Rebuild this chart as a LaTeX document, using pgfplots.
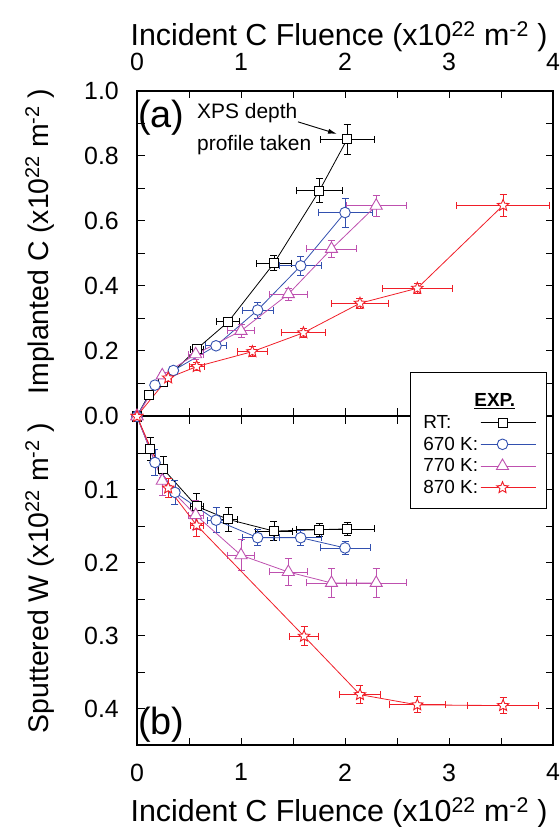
\documentclass[border=0pt]{standalone}
\usepackage{fontspec}
\setmainfont{Liberation Sans}
\usepackage{pgfplots}
\pgfplotsset{compat=1.18}
\usetikzlibrary{arrows.meta}

\definecolor{cB}{RGB}{50,80,175}
\definecolor{cM}{RGB}{190,80,175}
\definecolor{cR}{RGB}{240,30,40}

\pgfdeclareplotmark{ostar}{%
  \pgfpathmoveto{\pgfpointpolar{90}{\pgfplotmarksize}}%
  \pgfpathlineto{\pgfpointpolar{126}{0.45\pgfplotmarksize}}%
  \pgfpathlineto{\pgfpointpolar{162}{\pgfplotmarksize}}%
  \pgfpathlineto{\pgfpointpolar{198}{0.45\pgfplotmarksize}}%
  \pgfpathlineto{\pgfpointpolar{234}{\pgfplotmarksize}}%
  \pgfpathlineto{\pgfpointpolar{270}{0.45\pgfplotmarksize}}%
  \pgfpathlineto{\pgfpointpolar{306}{\pgfplotmarksize}}%
  \pgfpathlineto{\pgfpointpolar{342}{0.45\pgfplotmarksize}}%
  \pgfpathlineto{\pgfpointpolar{18}{\pgfplotmarksize}}%
  \pgfpathlineto{\pgfpointpolar{54}{0.45\pgfplotmarksize}}%
  \pgfpathclose
  \pgfusepathqfillstroke}

\pgfplotsset{
  panel/.style={
    scale only axis, width=416bp,
    xmin=0, xmax=4,
    xtick={0,1,2,3,4}, minor xtick={0.5,1.5,2.5,3.5},
    tick align=inside,
    major tick length=7.5bp, minor tick length=7.5bp,
    axis line style={line width=1.3bp},
    tick style={line width=1bp, black},
    tick label style={font=\fontsize{25}{28}\selectfont},
    /pgf/number format/assume math mode=true,
    yticklabel style={inner sep=0pt, anchor=east, xshift=-18bp,
      /pgf/number format/.cd, fixed, fixed zerofill, precision=1},
    legend image code/.code={\path (0bp,0bp) -- (55bp,0bp);
      \draw[mark repeat=2, mark phase=2, #1]
      plot coordinates {(0bp,0bp) (22bp,0bp) (44bp,0bp)};},
  },
  errs/.style={line width=0.8bp,
    error bars/.cd, x dir=both, x explicit, y dir=both, y explicit,
    error bar style={line width=0.8bp},
    error mark options={rotate=90, mark size=3.5bp, line width=0.8bp}},
  sRT/.style={black, mark=square*, mark size=4.5bp, mark options={fill=white, line width=0.9bp}, errs},
  sB/.style={cB, mark=*, mark size=5.3bp, mark options={fill=white, line width=0.9bp}, errs},
  sM/.style={cM, mark=triangle*, mark size=7bp, mark options={fill=white, line width=0.9bp}, errs},
  sR/.style={cR, mark=ostar, mark size=6bp, mark options={fill=white, line width=0.9bp}, errs},
}

\begin{document}
\begin{tikzpicture}
\useasboundingbox (0bp,0bp) rectangle (560bp,827bp);

% ---------- top panel ----------
\begin{axis}[panel, at={(137bp,411bp)}, anchor=south west, height=325bp,
  ymin=0, ymax=1,
  ytick={0,0.2,0.4,0.6,0.8,1.0}, minor ytick={0.1,0.3,0.5,0.7,0.9},
  xticklabel pos=upper,
  xticklabel style={anchor=south, inner sep=0pt, yshift=20bp},
]
\addplot[sRT] table[x index=0, y index=1, x error index=2, y error index=3] {
0     0     0     0
0.115 0.066 0.02  0.008
0.25  0.105 0.03  0.01
0.574 0.206 0.065 0.012
0.878 0.290 0.11  0.012
1.317 0.470 0.165 0.023
1.753 0.693 0.22  0.037
2.02  0.851 0.26  0.047
};
\addplot[sB] table[x index=0, y index=1, x error index=2, y error index=3] {
0     0     0     0
0.173 0.095 0.025 0.01
0.35  0.14  0.04  0.01
0.76  0.216 0.10  0.012
1.16  0.326 0.15  0.025
1.574 0.462 0.20  0.03
2.0   0.626 0.26  0.045
};
\addplot[sM] table[x index=0, y index=1, x error index=2, y error index=3] {
0     0     0     0
0.243 0.125 0.03  0.01
0.564 0.19  0.07  0.015
1.0   0.262 0.13  0.02
1.455 0.375 0.18  0.018
1.87  0.514 0.24  0.025
2.30  0.647 0.29  0.033
};
\addplot[sR] table[x index=0, y index=1, x error index=2, y error index=3] {
0     0     0     0
0.30  0.117 0.035 0.01
0.574 0.152 0.07  0.012
1.109 0.198 0.145 0.015
1.60  0.256 0.21  0.015
2.144 0.347 0.27  0.015
2.695 0.393 0.34  0.015
3.52  0.648 0.45  0.034
};
\node[anchor=west, inner sep=0pt, font=\fontsize{38}{40}\selectfont] at (axis cs:0.01,0.917) {(a)};
\node[anchor=west, align=left, inner sep=0pt, font=\fontsize{21}{32}\selectfont] at (axis cs:0.577,0.883) {XPS depth\\profile taken};
\draw[line width=0.9bp, -{Latex[length=9bp,width=5bp]}] (axis cs:1.548,0.905) -- (axis cs:1.923,0.868);
\end{axis}

% ---------- bottom panel ----------
\begin{axis}[panel, at={(137bp,82bp)}, anchor=south west, height=328.5bp,
  ymin=0, ymax=0.45, y dir=reverse,
  ytick={0.1,0.2,0.3,0.4}, minor ytick={0.05,0.15,0.25,0.35},
  xticklabel style={anchor=north, inner sep=0pt, yshift=-18.5bp},
  legend plot pos=right,
  legend style={at={(0.656,1.134)}, anchor=north west, draw=black, line width=1bp, fill=white,
    font=\fontsize{19}{21}\selectfont, cells={anchor=west}, row sep=3bp,
    inner xsep=11bp, inner ysep=11bp},
]
\addlegendimage{empty legend}
\addlegendentry{\rule{0pt}{21bp}\makebox[0pt][l]{\hspace{51bp}\underline{\textbf{EXP.}}}}
\addplot[sRT] table[x index=0, y index=1, x error index=2, y error index=3] {
0     0     0     0
0.125 0.044 0.02  0.016
0.253 0.072 0.03  0.018
0.574 0.123 0.06  0.017
0.878 0.141 0.09  0.016
1.317 0.157 0.18  0.013
1.753 0.155 0.22  0.009
2.02  0.154 0.26  0.009
};
\addlegendentry{RT:}
\addplot[sB] table[x index=0, y index=1, x error index=2, y error index=3] {
0     0     0     0
0.173 0.063 0.02  0.018
0.365 0.104 0.04  0.017
0.76  0.142 0.08  0.017
1.16  0.166 0.15  0.011
1.574 0.166 0.20  0.01
2.0   0.180 0.24  0.009
};
\addlegendentry{670 K:}
\addplot[sM] table[x index=0, y index=1, x error index=2, y error index=3] {
0     0     0     0
0.243 0.088 0.03  0.02
0.564 0.135 0.07  0.02
1.0   0.190 0.13  0.021
1.455 0.213 0.18  0.019
1.87  0.228 0.24  0.02
2.30  0.228 0.29  0.02
};
\addlegendentry{770 K:}
\addplot[sR] table[x index=0, y index=1, x error index=2, y error index=3] {
0     0     0     0
0.30  0.098 0.03  0.013
0.574 0.149 0.06  0.015
1.606 0.301 0.14  0.013
2.144 0.381 0.20  0.012
2.695 0.395 0.27  0.011
3.52  0.396 0.34  0.011
};
\addlegendentry{870 K:}
\node[anchor=west, inner sep=0pt, font=\fontsize{38}{40}\selectfont] at (axis cs:0.01,0.422) {(b)};
\end{axis}

% ---------- axis titles ----------
\node[anchor=base, inner sep=0pt, font=\fontsize{30.5}{34}\selectfont] at (339bp,781.3bp)
  {Incident C Fluence (x10\textsuperscript{22} m\textsuperscript{-2} )};
\node[anchor=base, inner sep=0pt, font=\fontsize{30.5}{34}\selectfont] at (339bp,6bp)
  {Incident C Fluence (x10\textsuperscript{22} m\textsuperscript{-2} )};
\node[rotate=90, anchor=base, inner sep=0pt, font=\fontsize{28.5}{32}\selectfont] at (48bp,585.5bp)
  {Implanted C (x10\textsuperscript{22} m\textsuperscript{-2} )};
\node[rotate=90, anchor=base, inner sep=0pt, font=\fontsize{28.5}{32}\selectfont] at (48bp,249bp)
  {Sputtered W (x10\textsuperscript{22} m\textsuperscript{-2} )};
\end{tikzpicture}
\end{document}
